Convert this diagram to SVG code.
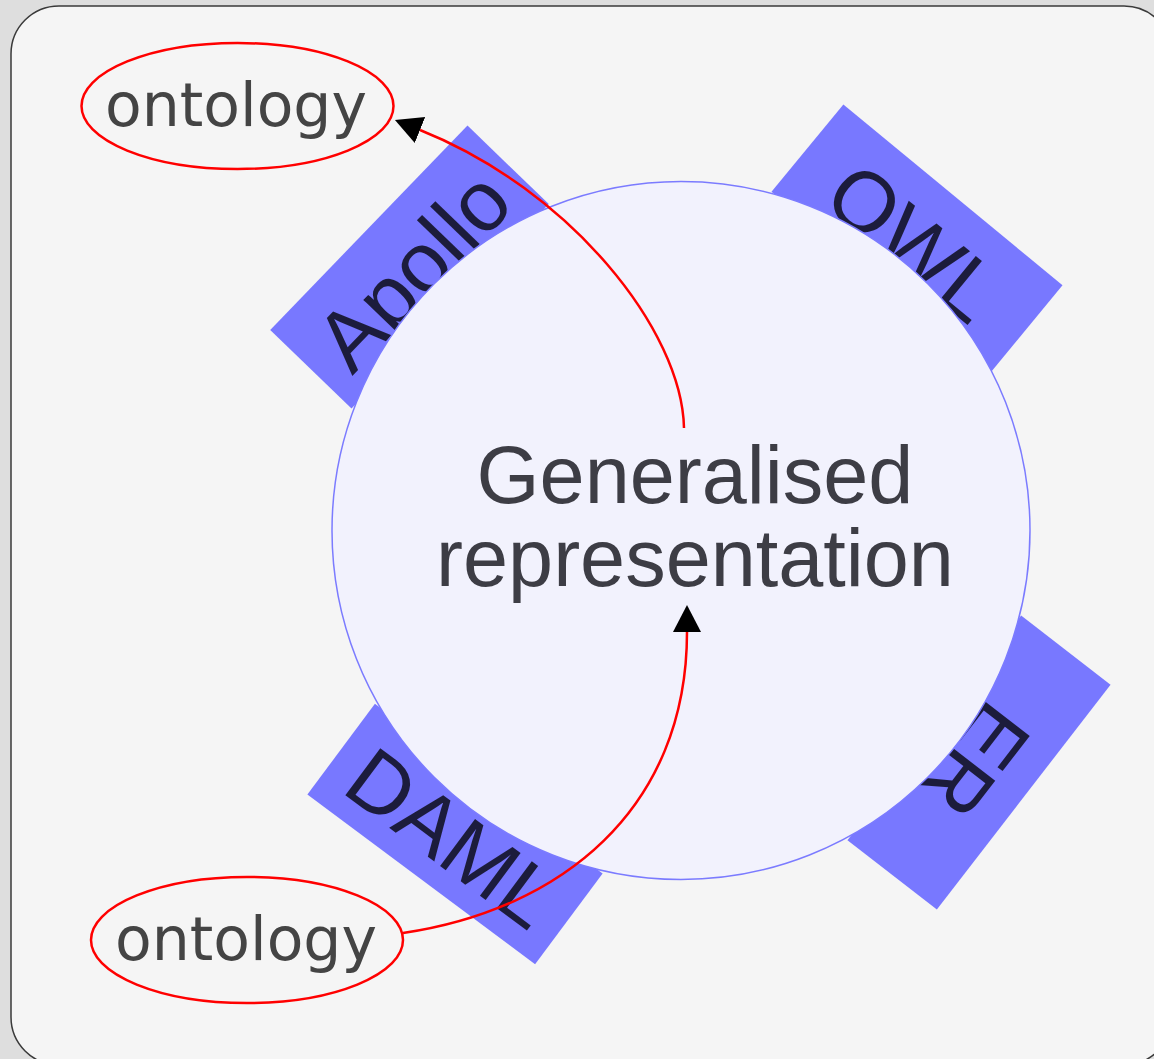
<svg xmlns="http://www.w3.org/2000/svg" width="1154" height="1059" viewBox="0 0 1154 1059">
  <style>
    .tab rect { fill: #7878ff; }
    .tab text { font-family: "Liberation Sans", Arial, sans-serif; font-size: 85px; fill: #1c1c3c; text-anchor: middle; dominant-baseline: central; }
    .hub circle { fill: #f2f2fd; stroke: #7b7bff; stroke-width: 1.5; }
    .hub text { font-family: "Liberation Sans", Arial, sans-serif; font-size: 81px; fill: #3d3d45; text-anchor: middle; }
    .term ellipse { fill: none; stroke: #ff0000; stroke-width: 2.5; }
    .term text { font-family: "DejaVu Sans", Verdana, sans-serif; font-size: 60px; fill: #444444; text-anchor: middle; }
    .edge { fill: none; stroke: #ff0000; stroke-width: 2.5; }
  </style>
  <defs>
    <marker id="arrow" markerUnits="userSpaceOnUse" markerWidth="28" markerHeight="30" refX="0" refY="14" orient="auto">
      <path d="M0,0 L27,14 L0,28 z" fill="#000000"/>
    </marker>
  </defs>

  <!-- canvas and panel -->
  <rect x="0" y="0" width="1154" height="1059" fill="#dedede"/>
  <rect x="11" y="6" width="1161" height="1059" rx="48" ry="48" fill="#f5f5f5" stroke="#3a3a3a" stroke-width="1.5"/>

  <!-- tabs around the hub -->
  <g id="tab-apollo" class="tab" transform="translate(409.5,267) rotate(-46)">
    <rect x="-142" y="-56.5" width="284" height="113"/>
    <text x="0" y="5">Apollo</text>
  </g>
  <g id="tab-owl" class="tab" transform="translate(917,238.5) rotate(39.5)">
    <rect x="-142" y="-56.5" width="284" height="113"/>
    <text x="0" y="5">OWL</text>
  </g>
  <g id="tab-er" class="tab" transform="translate(979,762.5) rotate(127.7)">
    <rect x="-142" y="-56.5" width="284" height="113"/>
    <text x="0" y="5">ER</text>
  </g>
  <g id="tab-daml" class="tab" transform="translate(455,834) rotate(36.7)">
    <rect x="-142" y="-56.5" width="284" height="113"/>
    <text x="0" y="5">DAML</text>
  </g>

  <!-- hub -->
  <g id="hub" class="hub">
    <circle cx="681" cy="530.5" r="349"/>
    <text x="695" y="503">Generalised</text>
    <text x="695" y="586">representation</text>
  </g>

  <!-- connectors -->
  <g id="connectors">
    <path class="edge" d="M684,428 C682,330 570,190 420,130" marker-end="url(#arrow)"/>
    <path class="edge" d="M403,933 C560,910 687,810 687,632" marker-end="url(#arrow)"/>
  </g>

  <!-- terms -->
  <g id="term-top" class="term">
    <ellipse cx="237.5" cy="106" rx="156" ry="63"/>
    <text x="236" y="126">ontology</text>
  </g>
  <g id="term-bottom" class="term">
    <ellipse cx="247" cy="940" rx="156" ry="63"/>
    <text x="246" y="960">ontology</text>
  </g>
</svg>
